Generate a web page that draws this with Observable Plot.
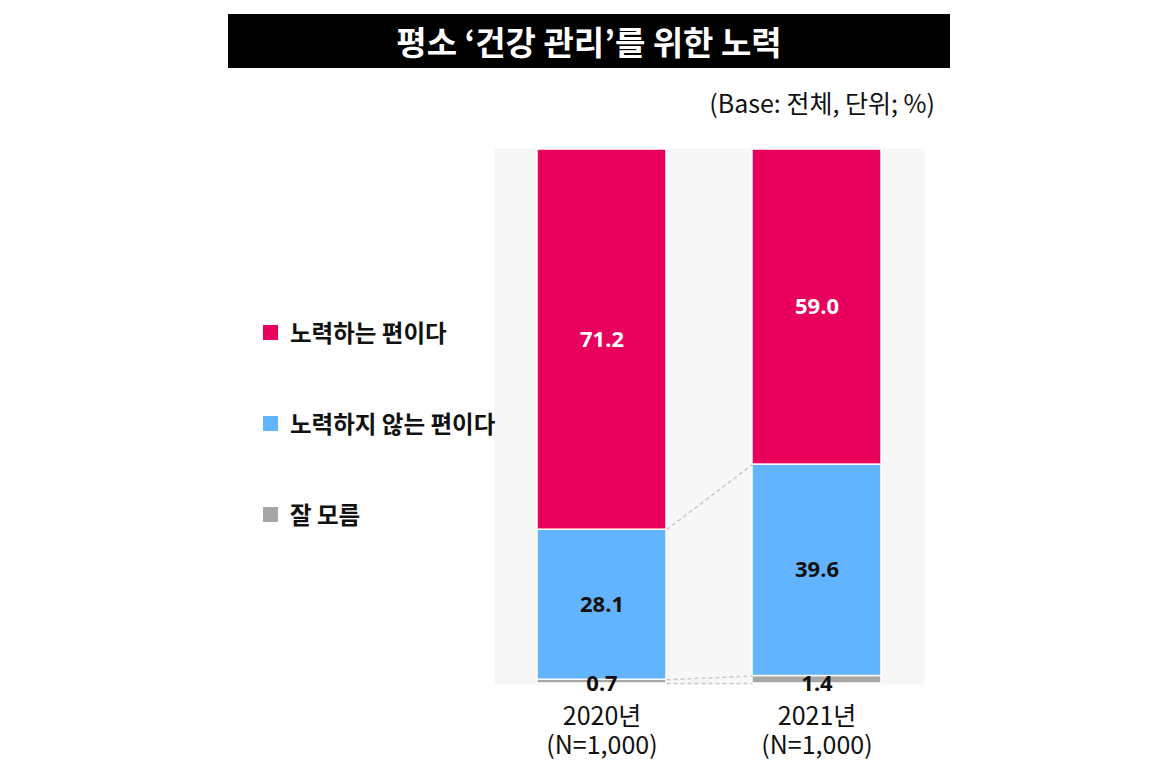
<!DOCTYPE html>
<html>
<head>
<meta charset="utf-8">
<script src="https://cdn.jsdelivr.net/npm/d3@7"></script>
<script src="https://cdn.jsdelivr.net/npm/@observablehq/plot@0.6"></script>
<style>
  html, body { margin: 0; padding: 0; background: #fff; }
  #page { position: relative; width: 1176px; height: 781px; overflow: hidden; font-family: "Noto Sans CJK KR", "Noto Sans", sans-serif; }
  #chart { position: absolute; left: 0; top: 0; }
  #title { position: absolute; left: 228px; top: 14px; width: 722px; height: 54px; background: #000; color: #fff;
           font-size: 33px; font-weight: 700; line-height: 54px; text-align: center; }
  #subtitle { position: absolute; right: 241px; top: 86px; font-size: 25px; line-height: 32px; color: #111; }
  .leg { position: absolute; left: 263px; display: flex; align-items: center; font-size: 23.5px; font-weight: 700; color: #111; white-space: nowrap; }
  .leg .sw { width: 15px; height: 15px; margin-right: 12px; }
</style>
</head>
<body>
<div id="page">
  <div id="chart"></div>
  <div id="title"></div>
  <div id="subtitle"></div>
</div>
<script>
// ---- data ----
const title = "평소 ‘건강 관리’를 위한 노력";
const subtitle = "(Base: 전체, 단위; %)";
const years = ["2020년", "2021년"];
const samples = ["(N=1,000)", "(N=1,000)"];
const categories = ["노력하는 편이다", "노력하지 않는 편이다", "잘 모름"];
const effort = [71.2, 59.0];
const noEffort = [28.1, 39.6];
const dontKnow = [0.7, 1.4];
const colors = ["#E9005C", "#63B4FF", "#A6A6A6"];
const labelColors = ["#ffffff", "#111111", "#111111"];

// ---- build table (stacked from bottom: 잘 모름, 노력하지 않는, 노력하는) ----
const series = [effort, noEffort, dontKnow];
const half = 0.3; // half bar width in band units
const rows = [];
years.forEach((yr, i) => {
  let base = 0;
  [2, 1, 0].forEach(c => {
    const v = series[c][i];
    rows.push({i, c, value: v, y1: base, y2: base + v});
    base += v;
  });
});
const tops = (i, c) => rows.find(r => r.i === i && r.c === c).y2;
const connectors = [
  {y1: 0, y2: 0},
  {y1: tops(0, 2), y2: tops(1, 2)},
  {y1: tops(0, 1), y2: tops(1, 1)}
];

const chart = Plot.plot({
  width: 1176,
  height: 781,
  marginLeft: 494,
  marginRight: 252,
  marginTop: 148,
  marginBottom: 97,
  x: {domain: [-0.5, years.length - 0.5], axis: null},
  y: {domain: [0, 100], axis: null, insetTop: 1, insetBottom: 1},
  style: {background: "transparent", overflow: "visible"},
  marks: [
    Plot.frame({fill: "#f7f7f7", stroke: null}),
    Plot.rectY(rows, {
      x1: d => d.i - half, x2: d => d.i + half, y1: "y1", y2: "y2",
      fill: d => colors[d.c], stroke: "white", strokeWidth: 1.5
    }),
    Plot.link(connectors, {
      x1: half, x2: 1 - half, y1: "y1", y2: "y2",
      stroke: "#c9c9c9", strokeWidth: 1.5, strokeDasharray: "4,3"
    }),
    Plot.text(rows, {
      x: "i",
      y: d => d.c === 2 ? 0 : (d.y1 + d.y2) / 2,
      text: d => d.value.toFixed(1),
      fill: d => labelColors[d.c],
      fontSize: 22, fontWeight: 700, fontFamily: "Noto Sans, sans-serif"
    }),
    Plot.axisX({
      ticks: years.map((_, i) => i),
      tickFormat: i => years[i] + "\n" + samples[i],
      label: null,
      tickSize: 0, tickPadding: 20, fontSize: 25, lineHeight: 1.15,
      fontFamily: "Noto Sans CJK KR, sans-serif", fill: "#111"
    })
  ]
});
document.getElementById("chart").appendChild(chart);

document.getElementById("title").textContent = title;
document.getElementById("subtitle").textContent = subtitle;

const page = document.getElementById("page");
categories.forEach((name, c) => {
  const div = document.createElement("div");
  div.className = "leg";
  div.style.top = (332 + c * 91 - 17) + "px";
  const sw = document.createElement("span");
  sw.className = "sw";
  sw.style.background = colors[c];
  const t = document.createElement("span");
  t.textContent = name;
  div.appendChild(sw);
  div.appendChild(t);
  page.appendChild(div);
});
</script>
</body>
</html>
